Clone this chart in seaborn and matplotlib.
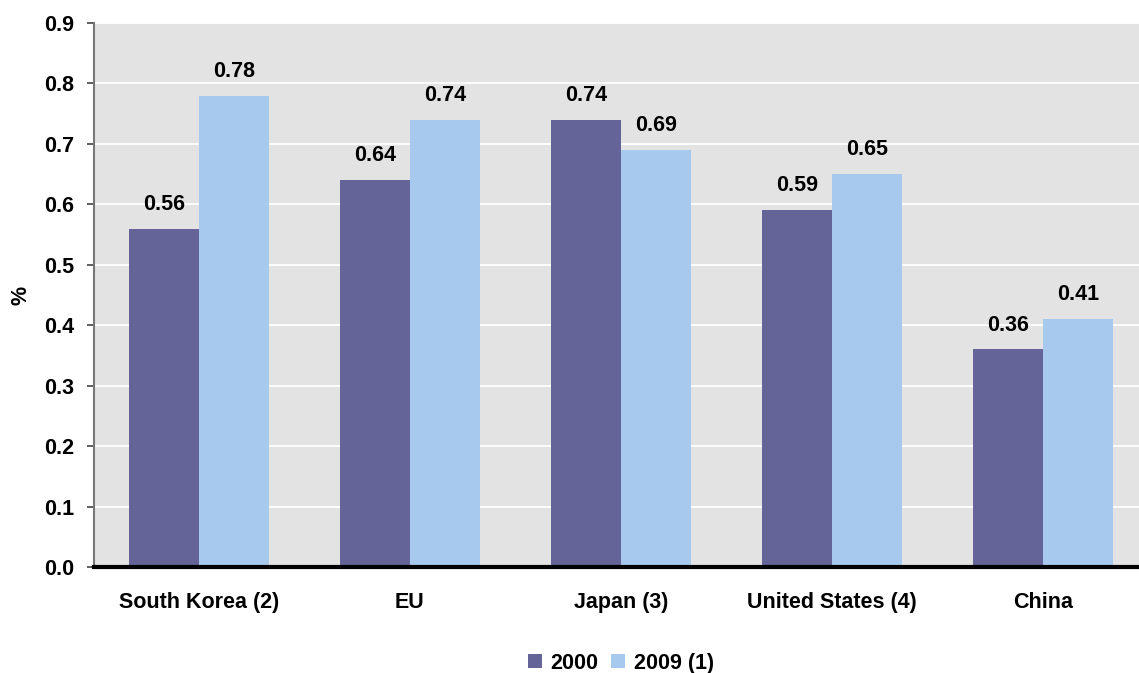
import matplotlib
matplotlib.use("Agg")
import matplotlib.pyplot as plt
import seaborn as sns
import pandas as pd
from matplotlib.patches import Patch

# Gross domestic expenditure on R&D as share of GDP
regions = ["South Korea (2)", "EU", "Japan (3)", "United States (4)", "China"]
years = ["2000", "2009 (1)"]
values_2000 = [0.56, 0.64, 0.74, 0.59, 0.36]
values_2009 = [0.78, 0.74, 0.69, 0.65, 0.41]
yticks = [0.0, 0.1, 0.2, 0.3, 0.4, 0.5, 0.6, 0.7, 0.8, 0.9]

colors = {"2000": "#646498", "2009 (1)": "#A8C9EE"}

df = pd.DataFrame({
    "region": regions * 2,
    "year": [years[0]] * len(regions) + [years[1]] * len(regions),
    "value": values_2000 + values_2009,
})

sns.set_theme(style="white")
plt.rcParams["font.family"] = ["Liberation Sans", "DejaVu Sans"]
plt.rcParams["font.weight"] = "bold"
plt.rcParams["text.color"] = "black"
plt.rcParams["xtick.color"] = "black"
plt.rcParams["ytick.color"] = "black"
plt.rcParams["axes.labelcolor"] = "black"

FS = 15.5

fig = plt.figure(figsize=(11.39, 6.73), dpi=100)
ax = fig.add_axes([94 / 1139, 1 - 567 / 673, 1 - 94 / 1139, (567 - 23) / 673])
ax.set_facecolor("#E3E3E3")

sns.barplot(data=df, x="region", y="value", hue="year", palette=colors,
            width=0.667, gap=0, saturation=1, ax=ax, legend=False,
            linewidth=0, zorder=3)

for cont in ax.containers:
    ax.bar_label(cont, fmt="%.2f", padding=10, fontsize=FS, fontweight="bold",
                 color="black")

ax.set_ylim(0, 0.9)
ax.set_xlim(-0.4976, 4.455)
ax.set_yticks(yticks)
ax.set_yticklabels([f"{t:.1f}" for t in yticks], fontsize=FS, fontweight="bold")
ax.grid(axis="y", color="white", linewidth=1.3, zorder=0)
ax.set_axisbelow(True)

ax.tick_params(axis="y", which="both", left=True, length=5, width=1.2,
               color="#444444", pad=9, labelcolor="black")
ax.tick_params(axis="x", bottom=False, labelsize=FS, pad=12, labelcolor="black")
for lab in ax.get_xticklabels():
    lab.set_fontweight("bold")

for side in ["top", "right"]:
    ax.spines[side].set_visible(False)
ax.spines["left"].set_color("#777777")
ax.spines["left"].set_linewidth(1.5)
ax.spines["bottom"].set_color("black")
ax.spines["bottom"].set_linewidth(3)
ax.spines["bottom"].set_zorder(5)

ax.set_xlabel("")
ax.set_ylabel("%", fontsize=FS, fontweight="bold", labelpad=9, color="black")

handles = [Patch(facecolor=colors[y], edgecolor="none", label=y) for y in years]
fig.legend(handles=handles, loc="lower center", bbox_to_anchor=(0.545, -0.03),
           ncol=2, frameon=False, handlelength=0.65, handleheight=0.65,
           handletextpad=0.4, columnspacing=0.6,
           prop={"weight": "bold", "size": FS})

fig.savefig("out.png", dpi=100)
